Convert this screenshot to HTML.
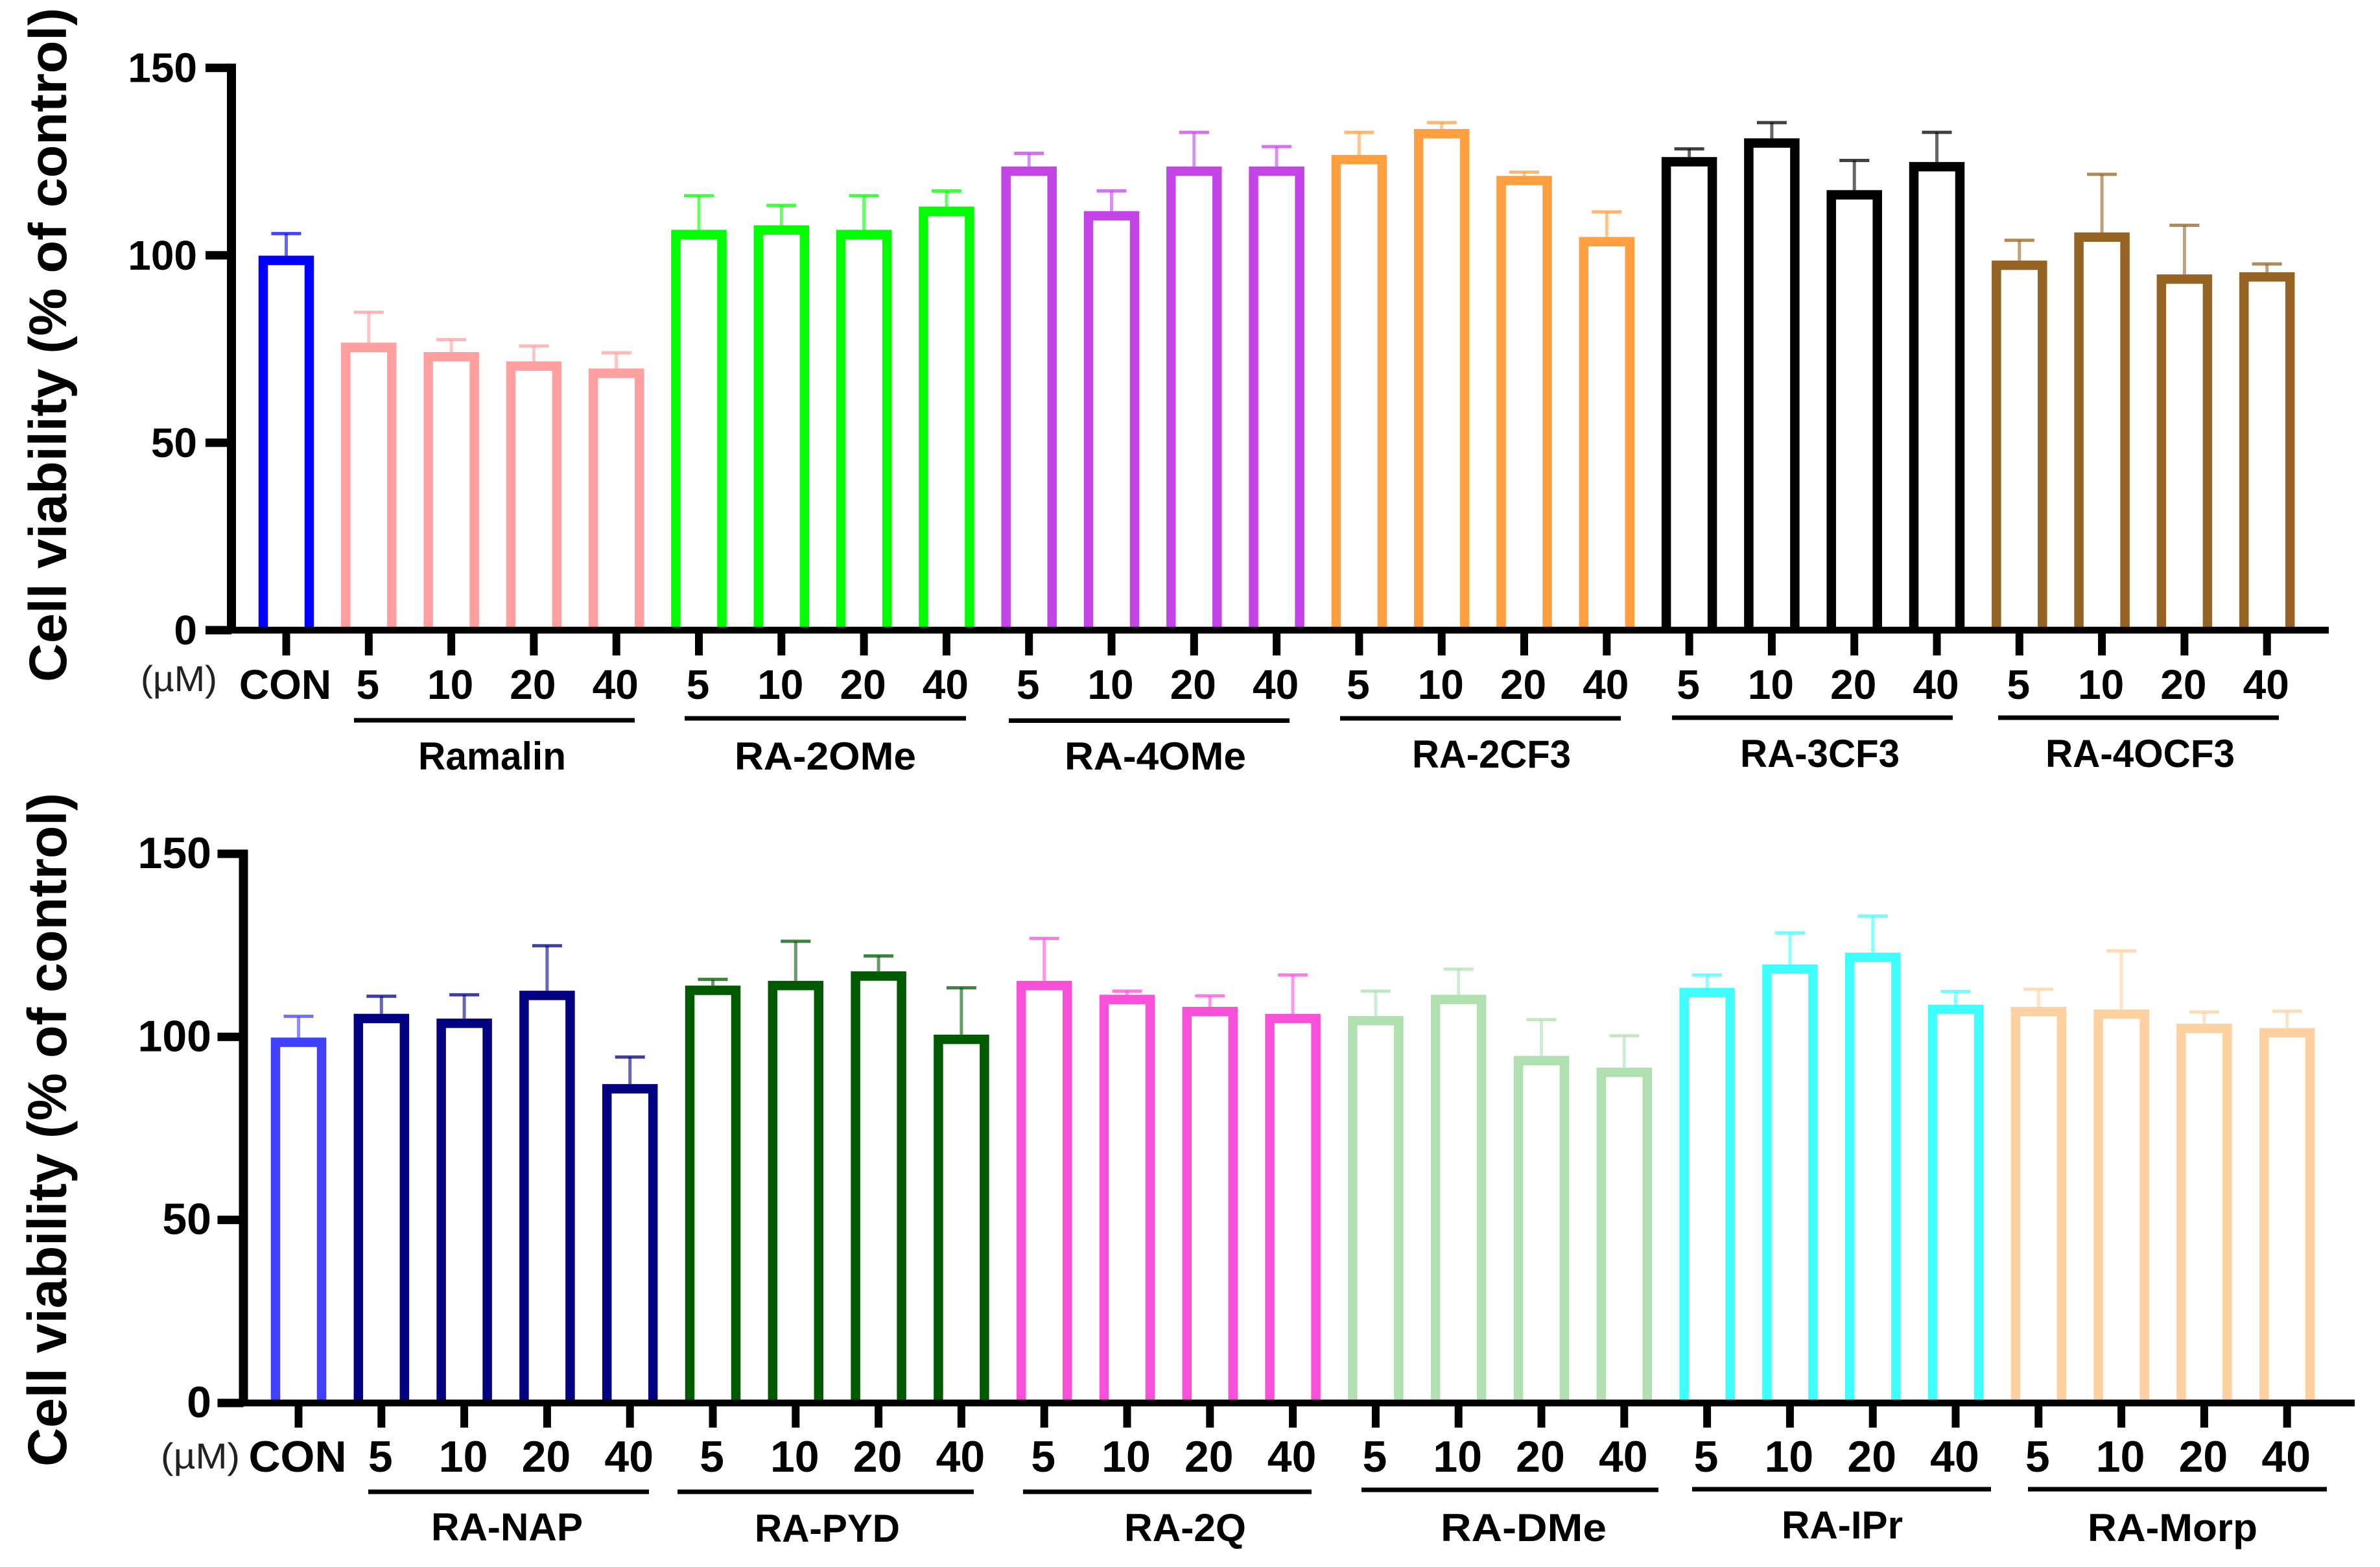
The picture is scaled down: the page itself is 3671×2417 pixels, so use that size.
<!DOCTYPE html>
<html lang="en">
<head>
<meta charset="utf-8">
<title>Cell viability bar charts</title>
<style>
  html, body { margin: 0; padding: 0; background: #fff; }
  svg { display: block; }
  text { font-family: "Liberation Sans", sans-serif; fill: #000; }
  .bold { font-weight: 700; }
</style>
</head>
<body>
<svg id="figure" xmlns="http://www.w3.org/2000/svg" width="3671" height="2417" viewBox="0 0 3671 2417">
  <rect x="0" y="0" width="3671" height="2417" fill="#fff"/>

  <g id="top-chart"></g>
  <g id="bottom-chart"></g>

  <!-- top chart annotation -->
  <text class="bold" transform="translate(102,1052) rotate(-90)" font-size="82" textLength="1040" lengthAdjust="spacingAndGlyphs">Cell viability (% of control)</text>
  <text x="217" y="1066" font-size="56" style="fill:#222" textLength="118" lengthAdjust="spacingAndGlyphs">(µM)</text>

  <rect x="546" y="1107.5" width="433" height="7"/>
  <rect x="1056" y="1104.5" width="434" height="7"/>
  <rect x="1556" y="1108" width="433" height="7"/>
  <rect x="2067" y="1104.5" width="433" height="7"/>
  <rect x="2579" y="1103.5" width="433" height="7"/>
  <rect x="3082" y="1103.5" width="433" height="7"/>

  <text class="bold" x="645" y="1187" font-size="60" textLength="228" lengthAdjust="spacingAndGlyphs">Ramalin</text>
  <text class="bold" x="1133" y="1187" font-size="60" textLength="280" lengthAdjust="spacingAndGlyphs">RA-2OMe</text>
  <text class="bold" x="1642" y="1187" font-size="60" textLength="280" lengthAdjust="spacingAndGlyphs">RA-4OMe</text>
  <text class="bold" x="2178" y="1184" font-size="60" textLength="245" lengthAdjust="spacingAndGlyphs">RA-2CF3</text>
  <text class="bold" x="2684" y="1183" font-size="60" textLength="246" lengthAdjust="spacingAndGlyphs">RA-3CF3</text>
  <text class="bold" x="3155" y="1183" font-size="60" textLength="292" lengthAdjust="spacingAndGlyphs">RA-4OCF3</text>

  <!-- bottom chart annotation -->
  <text class="bold" transform="translate(102,2262) rotate(-90)" font-size="84" textLength="1039" lengthAdjust="spacingAndGlyphs">Cell viability (% of control)</text>
  <text x="248" y="2265" font-size="56" style="fill:#222" textLength="122" lengthAdjust="spacingAndGlyphs">(µM)</text>

  <rect x="568" y="2297.5" width="433" height="7"/>
  <rect x="1045" y="2297.5" width="457" height="7"/>
  <rect x="1578" y="2297.5" width="445" height="7"/>
  <rect x="2100" y="2294.5" width="458" height="7"/>
  <rect x="2610" y="2293.5" width="461" height="7"/>
  <rect x="3128" y="2293.5" width="461" height="7"/>

  <text class="bold" x="665" y="2376" font-size="60" textLength="234" lengthAdjust="spacingAndGlyphs">RA-NAP</text>
  <text class="bold" x="1164" y="2378" font-size="60" textLength="224" lengthAdjust="spacingAndGlyphs">RA-PYD</text>
  <text class="bold" x="1734" y="2377" font-size="60" textLength="188" lengthAdjust="spacingAndGlyphs">RA-2Q</text>
  <text class="bold" x="2222" y="2377" font-size="60" textLength="256" lengthAdjust="spacingAndGlyphs">RA-DMe</text>
  <text class="bold" x="2748" y="2373" font-size="60" textLength="187" lengthAdjust="spacingAndGlyphs">RA-IPr</text>
  <text class="bold" x="3220" y="2377" font-size="60" textLength="262" lengthAdjust="spacingAndGlyphs">RA-Morp</text>
</svg>

<script>
// ---- chart data ----
const yTickValues = [0, 50, 100, 150];

const topCategories = ["CON","5","10","20","40","5","10","20","40","5","10","20","40","5","10","20","40","5","10","20","40","5","10","20","40"];
const topValues = [99.9, 76.7,74.2,71.7,69.8, 106.8,108,106.8,113, 123.7,111.8,123.7,123.7, 126.8,133.7,121.2,104.9, 126.2,131.2,117.4,124.9, 98.6,106.1,94.9,95.5];
const topErrors = [5.9, 8.1,3.3,4.1,4.2, 9.1,5.3,9.1,4.2, 3.5,5.4,9.1,5.3, 6.0,1.7,1.0,6.7, 2.2,4.2,7.9,7.9, 5.4,15.5,13.1,2.2];

const bottomCategories = ["CON","5","10","20","40","5","10","20","40","5","10","20","40","5","10","20","40","5","10","20","40","5","10","20","40"];
const bottomValues = [99.8, 106.3,105,112.6,87.1, 114,115.3,117.9,100.6, 115.3,111.5,108.2,106.3, 105.7,111.5,94.8,91.6, 113.4,119.8,123,108.8, 108.2,107.5,103.6,102.4];
const bottomErrors = [5.8, 4.8,6.5,12.3,7.4, 1.7,10.8,4.2,12.8, 11.6,1.0,3,10.6, 6.8,7,9.9,8.7, 3.5,8.6,10,3.6, 4.8,16,3.2,4.6];

const topPalette = ["#0000ff","#ff9f9f","#00ff00","#c345e8","#ff9f40","#000000","#956322"];
const bottomPalette = ["#4040ff","#000080","#005a00","#f850d8","#b0e0b0","#40ffff","#ffd0a0"];

const SVG_NS = "http://www.w3.org/2000/svg";

function paletteIndex(i) {
  return i === 0 ? 0 : Math.floor((i - 1) / 4) + 1;
}

function addShape(parent, tag, attrs) {
  const el = document.createElementNS(SVG_NS, tag);
  Object.keys(attrs).forEach(function (k) { el.setAttribute(k, attrs[k]); });
  parent.appendChild(el);
  return el;
}

function drawChart(opts) {
  const root = document.getElementById(opts.id);
  const yScale = function (v) { return opts.base - opts.unit * v; };
  const xScale = function (i) { return opts.x0 + opts.step * i; };
  const barWidth = 85.5, stroke = 14.5;

  // bars and error bars
  opts.values.forEach(function (value, i) {
    const color = opts.palette[paletteIndex(i)];
    const cx = xScale(i);
    const top = yScale(value);
    const capY = yScale(value + opts.errors[i]);

    const stem = addShape(root, "line", { x1: cx, x2: cx, y1: top, y2: capY, stroke: color, "stroke-width": 5, "stroke-opacity": 0.6 });
    
    

    const cap = addShape(root, "line", { x1: cx - 23, x2: cx + 23, y1: capY, y2: capY, stroke: color, "stroke-width": 5, "stroke-opacity": 0.75 });
    
    

    const left = cx - barWidth / 2 + stroke / 2;
    const right = cx + barWidth / 2 - stroke / 2;
    const d = "M" + left + "," + opts.base + " V" + (top + stroke / 2) + " H" + right + " V" + opts.base;
    const bar = addShape(root, "path", { d: d, fill: "#fff", stroke: color, "stroke-width": stroke, "stroke-linejoin": "miter" });
    
    
  });

  // y axis line
  const yAxis = addShape(root, "rect", { x: opts.axisX - 7, y: yScale(150) - 6.5, width: 14, height: opts.base - yScale(150) + 11.5, fill: "#000" });
  
  

  // x axis line
  const xAxis = addShape(root, "rect", { x: opts.tickLeft, y: opts.base - 5.25, width: opts.axisEnd - opts.tickLeft, height: 10.5, fill: "#000" });
  
  

  // y ticks and labels
  yTickValues.forEach(function (tick) {
    const y = yScale(tick);
    const mark = addShape(root, "rect", { x: opts.tickLeft, y: y - 6.5, width: opts.axisX - opts.tickLeft, height: 13, fill: "#000" });
    
    

    const label = addShape(root, "text", { x: opts.labelRight, y: y + 22, "text-anchor": "end", "font-size": opts.fontSize, "font-weight": 700 });
    
    
    label.textContent = String(tick);
  });

  // x ticks and labels
  opts.categories.forEach(function (category, i) {
    const cx = xScale(i);
    const mark = addShape(root, "rect", { x: cx - 6, y: opts.base, width: 12, height: opts.tickBottom - opts.base, fill: "#000" });
    
    

    const label = addShape(root, "text", { x: cx - 1.5, y: opts.catBaseline, "text-anchor": "middle", "font-size": opts.fontSize, "font-weight": 700 });
    
    
    label.textContent = category;
  });
}

drawChart({
  id: "top-chart", categories: topCategories, values: topValues, errors: topErrors, palette: topPalette,
  base: 972, unit: 5.782, x0: 441.5, step: 127.3,
  axisX: 357, tickLeft: 317, axisEnd: 3592, labelRight: 304,
  tickBottom: 1011, catBaseline: 1078, fontSize: 64
});

drawChart({
  id: "bottom-chart", categories: bottomCategories, values: bottomValues, errors: bottomErrors, palette: bottomPalette,
  base: 2164, unit: 5.647, x0: 460.5, step: 127.8,
  axisX: 375.5, tickLeft: 335.5, axisEnd: 3632, labelRight: 326,
  tickBottom: 2202, catBaseline: 2270, fontSize: 68
});
</script>
</body>
</html>
